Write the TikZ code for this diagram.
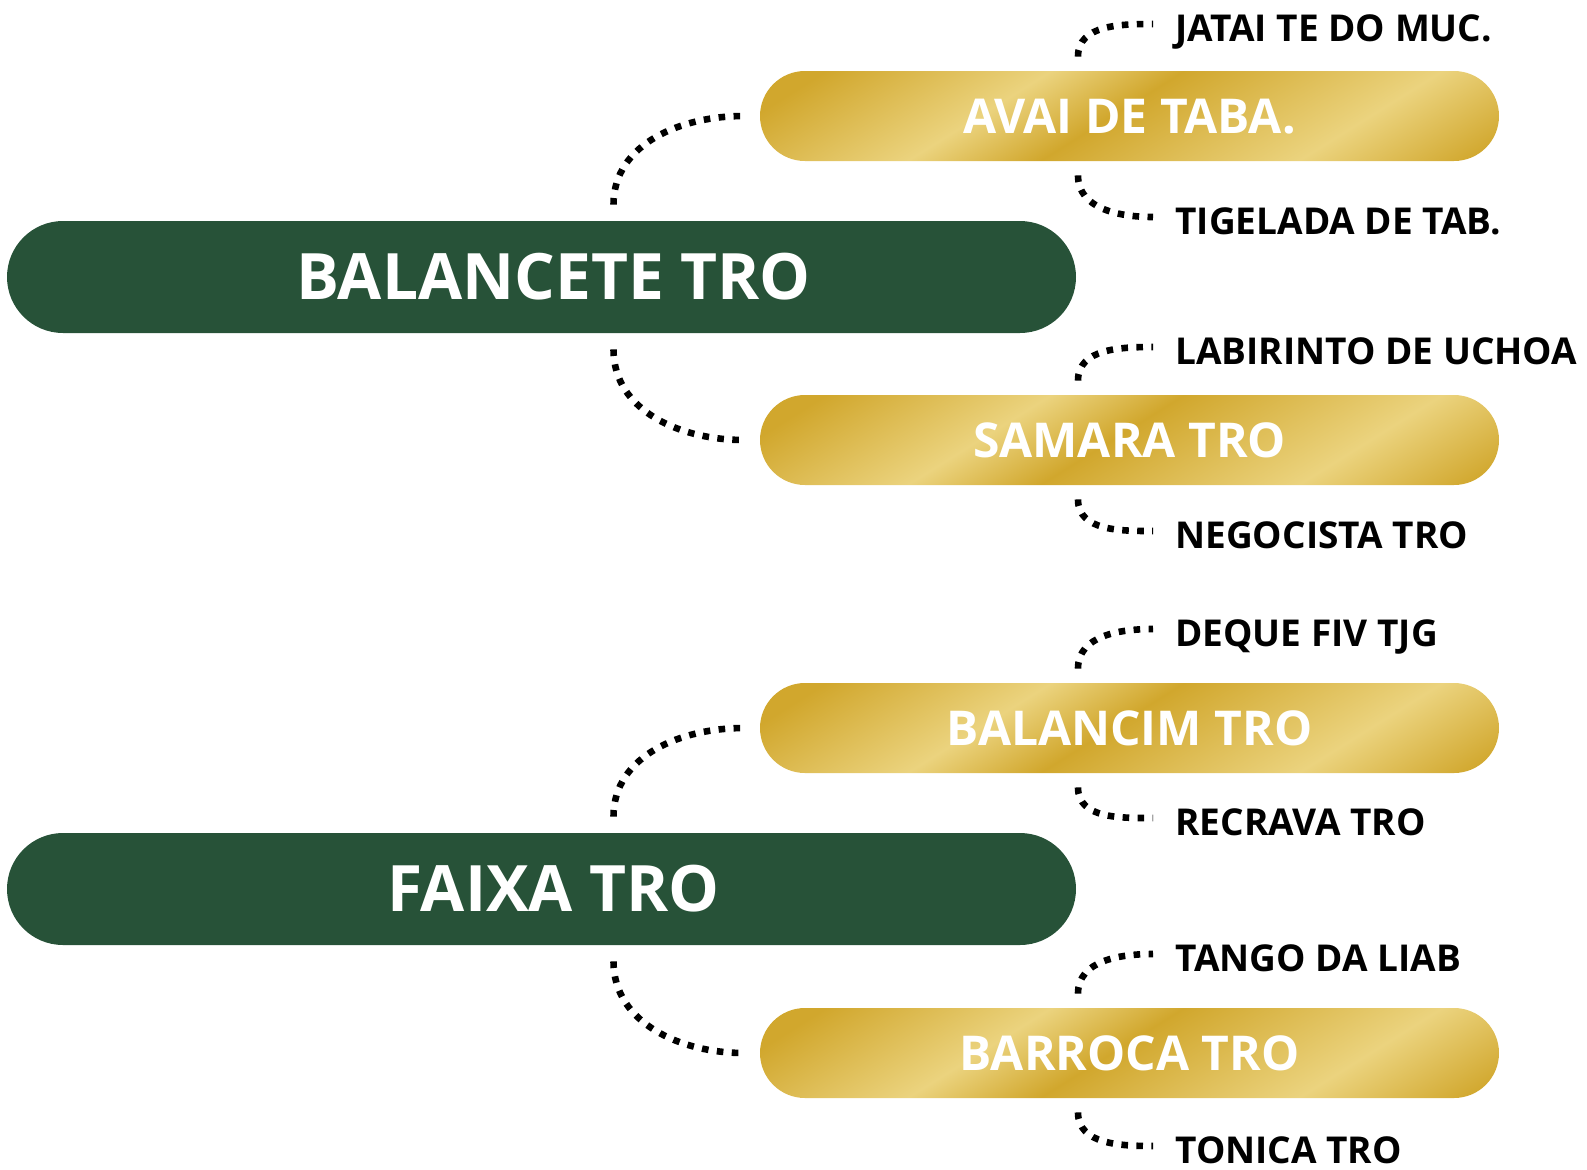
\documentclass[tikz,border=0pt]{standalone}
\usepackage{fontspec}
\setmainfont{Open Sans}
\usetikzlibrary{positioning}

\definecolor{treegreen}{RGB}{39,82,56}
\definecolor{golddark}{RGB}{209,167,45}
\definecolor{goldlight}{RGB}{235,211,126}

\pgfdeclarehorizontalshading{goldbands}{100bp}{color(0bp)=(golddark); color(37.5bp)=(golddark); color(45bp)=(goldlight); color(49.4bp)=(golddark); color(58bp)=(goldlight); color(63.8bp)=(golddark); color(100bp)=(golddark)}

\tikzset{
    mainbox/.style={fill=treegreen, text=white, rounded corners=28pt, minimum width=534.5pt, minimum height=56pt,
        font=\bfseries\fontsize{32}{38}\selectfont, text height=22.8pt, text depth=0pt, execute at begin node=\hspace*{12pt}},
    subbox/.style={rounded corners=22.5pt, minimum width=369.5pt, minimum height=45pt, text=white,
        font=\bfseries\fontsize{24}{29}\selectfont, text height=17.1pt, text depth=0pt,
        path picture={\shade[shading=goldbands, shading angle=-58] ([shift={(-400,-400)}]path picture bounding box.center) rectangle ++(800,800);}},
    leaf/.style={anchor=west, inner sep=0pt, font=\bfseries\fontsize{18.5}{22}\selectfont, text height=13.2pt, text depth=0pt},
    dotline/.style={line width=3.3pt, dash pattern=on 3.3pt off 4.2pt},
}

\begin{document}
\begin{tikzpicture}[x=0.5pt, y=-0.5pt]
    \useasboundingbox (0,0) rectangle (1587,1169);

    % main boxes
    \node [mainbox] (balancete) at (541.5,277) {BALANCETE TRO};
    \node [mainbox] (faixa) at (541.5,889) {FAIXA TRO};

    % gold boxes
    \node [subbox] (avai) at (1129.5,116) {AVAI DE TABA.};
    \node [subbox] (samara) at (1129.5,440) {SAMARA TRO};
    \node [subbox] (balancim) at (1129.5,728) {BALANCIM TRO};
    \node [subbox] (barroca) at (1129.5,1053) {BARROCA TRO};

    % leaves
    \node [leaf] (jatai) at (1175,28) {JATAI TE DO MUC.};
    \node [leaf] (tigelada) at (1175,221) {TIGELADA DE TAB.};
    \node [leaf] (labirinto) at (1175,351) {LABIRINTO DE UCHOA};
    \node [leaf] (negocista) at (1175,535) {NEGOCISTA TRO};
    \node [leaf] (deque) at (1175,633) {DEQUE FIV TJG};
    \node [leaf] (recrava) at (1175,822) {RECRAVA TRO};
    \node [leaf] (tango) at (1175,958) {TANGO DA LIAB};
    \node [leaf] (tonica) at (1175,1150) {TONICA TRO};

    \draw [dotline] ([xshift=36pt,yshift=8pt]balancete.north) to[out=90,in=180] ([xshift=-8pt]avai.west);
    \draw [dotline] ([xshift=36pt,yshift=-8pt]balancete.south) to[out=-90,in=180] ([xshift=-8pt]samara.west);
    \draw [dotline] ([xshift=36pt,yshift=8pt]faixa.north) to[out=90,in=180] ([xshift=-8pt]balancim.west);
    \draw [dotline] ([xshift=36pt,yshift=-8pt]faixa.south) to[out=-90,in=180] ([xshift=-8pt]barroca.west);

    \draw [dotline] ([xshift=-25.75pt,yshift=7pt]avai.north) to[out=90,in=180] ([xshift=-11pt,yshift=2pt]jatai.west);
    \draw [dotline] ([xshift=-25.75pt,yshift=-7pt]avai.south) to[out=-90,in=180] ([xshift=-11pt,yshift=2pt]tigelada.west);
    \draw [dotline] ([xshift=-25.75pt,yshift=7pt]samara.north) to[out=90,in=180] ([xshift=-11pt,yshift=2pt]labirinto.west);
    \draw [dotline] ([xshift=-25.75pt,yshift=-7pt]samara.south) to[out=-90,in=180] ([xshift=-11pt,yshift=2pt]negocista.west);
    \draw [dotline] ([xshift=-25.75pt,yshift=7pt]balancim.north) to[out=90,in=180] ([xshift=-11pt,yshift=2pt]deque.west);
    \draw [dotline] ([xshift=-25.75pt,yshift=-7pt]balancim.south) to[out=-90,in=180] ([xshift=-11pt,yshift=2pt]recrava.west);
    \draw [dotline] ([xshift=-25.75pt,yshift=7pt]barroca.north) to[out=90,in=180] ([xshift=-11pt,yshift=2pt]tango.west);
    \draw [dotline] ([xshift=-25.75pt,yshift=-7pt]barroca.south) to[out=-90,in=180] ([xshift=-11pt,yshift=2pt]tonica.west);
\end{tikzpicture}
\end{document}
